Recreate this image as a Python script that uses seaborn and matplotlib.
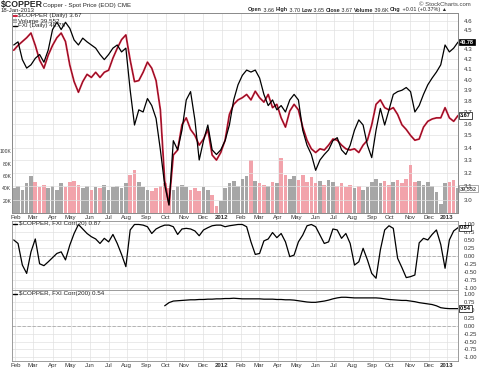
import numpy as np
import pandas as pd
import matplotlib
matplotlib.use("Agg")
import matplotlib.pyplot as plt
import matplotlib.ticker as mticker
from matplotlib.lines import Line2D
from matplotlib.patches import Rectangle
import seaborn as sns

# weekly values (Friday closes)
week_end = pd.date_range("2011-01-28", "2013-01-18", freq="W-FRI")

copper = [4.29, 4.34, 4.38, 4.42, 4.47, 4.34, 4.19, 4.11, 4.24, 4.34,
          4.42, 4.47, 4.38, 4.14, 3.98, 3.88, 3.98, 4.05, 4.02, 4.07,
          4.02, 4.07, 4.09, 4.21, 4.31, 4.40, 4.45, 4.19, 3.98, 3.99,
          4.07, 4.17, 4.11, 3.99, 3.72, 3.14, 2.97, 3.34, 3.38, 3.59,
          3.65, 3.55, 3.50, 3.42, 3.47, 3.55, 3.34, 3.30, 3.36, 3.46,
          3.68, 3.77, 3.81, 3.83, 3.86, 3.81, 3.89, 3.83, 3.79, 3.86,
          3.74, 3.77, 3.65, 3.57, 3.71, 3.77, 3.72, 3.57, 3.46, 3.39,
          3.36, 3.39, 3.38, 3.42, 3.47, 3.46, 3.42, 3.39, 3.38, 3.39,
          3.36, 3.42, 3.46, 3.59, 3.77, 3.81, 3.74, 3.72, 3.74, 3.68,
          3.59, 3.55, 3.50, 3.46, 3.47, 3.57, 3.62, 3.64, 3.65, 3.65,
          3.74, 3.65, 3.62, 3.67]

fxi = [40.55, 40.80, 39.40, 38.75, 39.00, 39.50, 39.80, 39.20, 40.15, 41.80,
       42.40, 41.80, 42.40, 41.90, 40.95, 40.55, 41.10, 40.80, 40.55, 40.30,
       39.80, 39.40, 39.80, 40.30, 40.55, 40.00, 40.30, 37.10, 34.65, 35.70,
       35.55, 36.50, 36.00, 35.10, 33.00, 30.80, 29.60, 33.60, 33.00, 34.30,
       36.40, 37.00, 35.00, 32.35, 33.60, 34.65, 33.00, 32.70, 33.00, 33.60,
       34.65, 36.40, 37.50, 38.20, 38.60, 38.45, 38.60, 38.00, 36.80, 36.00,
       36.40, 35.70, 36.00, 35.55, 36.40, 36.80, 36.40, 34.30, 33.30, 32.70,
       31.70, 32.35, 32.70, 33.00, 33.60, 33.80, 33.00, 32.70, 33.30, 34.30,
       35.00, 34.65, 33.30, 32.50, 34.30, 35.80, 34.65, 35.70, 36.80, 37.00,
       37.10, 37.30, 37.00, 35.55, 36.00, 36.80, 37.50, 38.00, 38.45, 39.00,
       40.55, 40.00, 40.30, 40.78]

volume_k = [40, 44, 38, 48, 60, 50, 42, 46, 40, 44,
            38, 48, 42, 50, 52, 46, 40, 44, 38, 42,
            40, 45, 38, 42, 44, 40, 48, 62, 70, 50,
            42, 38, 36, 40, 44, 48, 40, 38, 44, 46,
            42, 38, 40, 36, 42, 38, 30, 12, 20, 40,
            48, 52, 44, 56, 60, 86, 52, 48, 46, 44,
            50, 48, 90, 62, 56, 60, 54, 62, 50, 58,
            48, 52, 46, 54, 50, 44, 48, 42, 46, 40,
            44, 38, 42, 50, 56, 48, 52, 46, 50, 54,
            48, 56, 78, 50, 52, 46, 50, 44, 34, 15,
            48, 50, 54, 40]

corr20 = [0.49, 0.38, -0.29, -0.55, 0.12, 0.52, -0.25, -0.31, -0.19, -0.06,
          0.07, 0.12, -0.13, 0.33, 0.69, 0.97, 0.83, 0.69, 0.59, 0.52,
          0.38, 0.54, 0.43, 0.66, 0.38, 0.04, -0.34, 0.80, 0.97, 0.97,
          0.95, 0.90, 0.69, 0.83, 0.90, 0.95, 0.95, 0.90, 0.66, 0.83,
          0.85, 0.83, 0.77, 0.62, 0.80, 0.87, 0.93, 0.95, 0.95, 0.90,
          0.93, 0.95, 0.97, 0.97, 0.90, 0.43, 0.04, 0.07, 0.46, 0.52,
          0.72, 0.56, 0.69, 0.43, -0.03, 0.02, 0.43, 0.64, 0.93, 0.97,
          0.90, 0.64, 0.38, 0.43, 0.83, 0.80, 0.54, 0.69, 0.38, -0.29,
          -0.19, 0.23, -0.13, -0.55, -0.70, 0.18, 0.80, 0.93, 0.85, -0.08,
          -0.37, -0.68, -0.65, -0.60, 0.40, 0.54, 0.49, 0.66, 0.80, 0.35,
          -0.39, 0.49, 0.77, 0.87]

# Corr(200) needs 200 days of history, so it starts in late Sep 2011
corr200 = [np.nan] * 35 + [
    0.63, 0.73, 0.78, 0.79, 0.80, 0.81, 0.82, 0.82, 0.83, 0.83,
    0.84, 0.84, 0.85, 0.85, 0.86, 0.86, 0.87, 0.86, 0.85, 0.85,
    0.85, 0.85, 0.85, 0.84, 0.84, 0.84, 0.83, 0.83, 0.82, 0.82,
    0.81, 0.79, 0.77, 0.75, 0.74, 0.74, 0.76, 0.78, 0.81, 0.85,
    0.88, 0.90, 0.90, 0.89, 0.88, 0.88, 0.88, 0.88, 0.88, 0.88,
    0.87, 0.85, 0.83, 0.82, 0.81, 0.80, 0.80, 0.78, 0.76, 0.73,
    0.71, 0.69, 0.67, 0.63, 0.57, 0.55, 0.54, 0.54, 0.54]

month_labels = ["Feb", "Mar", "Apr", "May", "Jun", "Jul", "Aug", "Sep", "Oct", "Nov", "Dec",
                "2012", "Feb", "Mar", "Apr", "May", "Jun", "Jul", "Aug", "Sep", "Oct", "Nov",
                "Dec", "2013"]
# 4.4 sits under the FXI value box on the original, so it is not labelled
price_ticks = [3.0, 3.1, 3.2, 3.3, 3.4, 3.5, 3.6, 3.7, 3.8, 3.9, 4.0, 4.1, 4.2, 4.3, 4.5, 4.6]
vol_ticks = [20, 40, 60, 80, 100]
corr_ticks = [-1.0, -0.75, -0.5, -0.25, 0.0, 0.25, 0.5, 0.75, 1.0]

sns.set_style("white")
plt.rcParams["font.family"] = ["Liberation Sans", "DejaVu Sans"]

W, H = 480, 369
fig = plt.figure(figsize=(W / 100, H / 100), dpi=100)


def axes_px(x0, y0, x1, y1):
    return fig.add_axes([x0 / W, 1 - y1 / H, (x1 - x0) / W, (y1 - y0) / H])


def ftext(x, y, s, **kw):
    kw.setdefault("va", "center")
    kw.setdefault("fontsize", 4.5)
    return fig.text(x / W, 1 - y / H, s, **kw)


# trading-day axis like StockCharts (no weekend gaps)
days = pd.bdate_range("2011-01-26", "2013-01-18")
pos = days.get_indexer(week_end)
month_pos = days.searchsorted(pd.date_range("2011-02-01", "2013-01-01", freq="MS"))
xmax = len(days) - 1

red = "#d01f3c"
pink = "#f2a3ab"
grey = "#a6a6a6"
grid_c = "#e1e1e1"
frame_c = "#8c8c8c"
fs = 4.4


def style_frame(ax):
    for sp in ax.spines.values():
        sp.set_color(frame_c)
        sp.set_linewidth(0.6)


# ---- main panel: price + volume + FXI overlay ----
ax_p = axes_px(12, 13, 458, 213)
ax_v = ax_p.twinx()
ax_f = ax_p.twinx()
ax_v.set_zorder(0)
ax_p.set_zorder(1)
ax_f.set_zorder(2)
ax_p.patch.set_visible(False)
ax_v.patch.set_visible(True)
ax_v.patch.set_facecolor("white")

for p in month_pos:
    ax_v.axvline(p, color=grid_c, lw=0.5, zorder=0)

chg = np.diff(copper, prepend=copper[0])
bar_colors = np.where(chg < 0, pink, grey)
ax_v.bar(pos, volume_k, width=4.2, color=bar_colors, linewidth=0, zorder=1)
ax_v.set_ylim(0, 325)
ax_v.yaxis.tick_left()
ax_v.set_yticks(vol_ticks, [f"{v}K" for v in vol_ticks])
ax_v.tick_params(axis="y", length=0, pad=0.6, labelsize=3.6, labelcolor="#333333")

sns.lineplot(x=pos, y=copper, ax=ax_p, color=red, linewidth=1.3)
sns.lineplot(x=pos, y=copper, ax=ax_p, color="#5a0b18", linewidth=0.35)
ax_p.set_yscale("log")
ax_p.set_ylim(2.908, 4.689)
ax_p.yaxis.set_major_locator(mticker.FixedLocator(price_ticks))
ax_p.yaxis.set_minor_locator(mticker.NullLocator())
ax_p.yaxis.set_major_formatter(mticker.FormatStrFormatter("%.1f"))
ax_p.yaxis.tick_right()
ax_p.grid(axis="y", color=grid_c, lw=0.5)
ax_p.tick_params(axis="y", length=0, pad=4, labelsize=fs, labelcolor="#333333")

sns.lineplot(x=pos, y=fxi, ax=ax_f, color="black", linewidth=0.9)
ax_f.set_yscale("log")
ax_f.set_ylim(29.15, 43.18)
ax_f.yaxis.set_visible(False)

for ax in (ax_p, ax_v, ax_f):
    ax.set_xlim(0, xmax)
    ax.set_xlabel("")
    ax.set_ylabel("")
    style_frame(ax)

ax_p.set_xticks(month_pos, month_labels)
ax_p.tick_params(axis="x", length=0, pad=1.5, labelsize=fs, labelcolor="#333333")
for t in ax_p.get_xticklabels():
    if t.get_text().startswith("20"):
        t.set_fontweight("bold")


def value_box(ax, y, text, fc="white", tc="black", ec="black"):
    ax.annotate(text, xy=(1, y), xycoords=("axes fraction", "data"),
                xytext=(1.5, 0), textcoords="offset points", ha="left", va="center",
                fontsize=4.0, fontweight="bold", color=tc, annotation_clip=False, zorder=10,
                bbox=dict(boxstyle="square,pad=0.12", fc=fc, ec=ec, lw=0.5))


value_box(ax_f, fxi[-1], "40.78", fc="black", tc="white")
value_box(ax_p, copper[-1], "3.67")
value_box(ax_v, 39.6, "39,552", fc="white", tc="#555555", ec="#888888")

# ---- correlation panels ----
ax_c20 = axes_px(12, 221, 458, 290)
ax_c200 = axes_px(12, 290, 458, 361)

for ax, vals, ylim in ((ax_c20, corr20, (-1.065, 1.078)), (ax_c200, corr200, (-1.117, 1.13))):
    for p in month_pos:
        ax.axvline(p, color=grid_c, lw=0.5, zorder=0)
    ax.axhline(0, color="#aaaaaa", lw=0.6, ls=(0, (4, 2)), zorder=1)
    sns.lineplot(x=pos, y=vals, ax=ax, color="black", linewidth=0.9)
    ax.set_xlim(0, xmax)
    ax.set_ylim(*ylim)
    ax.set_yticks(corr_ticks)
    ax.yaxis.set_major_formatter(mticker.FormatStrFormatter("%.2f"))
    ax.yaxis.tick_right()
    ax.grid(axis="y", color=grid_c, lw=0.5)
    ax.tick_params(axis="y", length=0, pad=4, labelsize=4.2, labelcolor="#333333")
    ax.set_xlabel("")
    ax.set_ylabel("")
    style_frame(ax)

ax_c20.set_xticks(month_pos, [])
ax_c20.tick_params(axis="x", length=0)
ax_c200.set_xticks(month_pos, month_labels)
ax_c200.tick_params(axis="x", length=0, pad=1.5, labelsize=fs, labelcolor="#333333")
for t in ax_c200.get_xticklabels():
    if t.get_text().startswith("20"):
        t.set_fontweight("bold")

value_box(ax_c20, corr20[-1], "0.87")
value_box(ax_c200, corr200[-1], "0.54")

# ---- header texts ----
ftext(1, 5, "$COPPER", fontsize=6.3, fontweight="bold")
ftext(43, 5.3, "Copper - Spot Price (EOD) CME", fontsize=4.4)
ftext(1, 11, "18-Jan-2013", fontsize=4.3)
ftext(471, 4, "\u00a9 StockCharts.com", fontsize=4.3, ha="right", color="#444444")

pieces = [("Open", True), (" 3.66 ", False), ("High", True), (" 3.70 ", False),
          ("Low", True), (" 3.65 ", False), ("Close", True), (" 3.67 ", False),
          ("Volume", True), (" 39.6K ", False), ("Chg", True), (" +0.01 (+0.37%) \u25b2", False)]
prev = ftext(248, 10, pieces[0][0], fontsize=3.9, fontweight="bold")
for s, bold in pieces[1:]:
    prev = ax_p.annotate(s, xy=(1, 0), xycoords=prev, ha="left", va="bottom",
                         fontsize=3.9, fontweight="bold" if bold else "normal",
                         annotation_clip=False)

# legend inside the price panel
fig.add_artist(Line2D([13 / W, 17 / W], [1 - 16 / H] * 2, color=red, lw=1.4))
ftext(18, 16, "$COPPER (Daily) 3.67", fontsize=4.5)
fig.add_artist(Rectangle((13 / W, 1 - 23 / H), 4 / W, 4 / H, color=grey, lw=0))
ftext(18, 21, "Volume 39,552", fontsize=4.5)
fig.add_artist(Line2D([13 / W, 17 / W], [1 - 26 / H] * 2, color="black", lw=1.0))
ftext(18, 26, "FXI (Daily) 40.78", fontsize=4.5)

# legends of the correlation panels
fig.add_artist(Line2D([13 / W, 17 / W], [1 - 224 / H] * 2, color="black", lw=1.0))
ftext(19, 224, "$COPPER, FXI Corr(20) 0.87", fontsize=4.5)
fig.add_artist(Line2D([13 / W, 17 / W], [1 - 294 / H] * 2, color="black", lw=1.0))
ftext(19, 294, "$COPPER, FXI Corr(200) 0.54", fontsize=4.5)

fig.savefig("out.png", dpi=100)
